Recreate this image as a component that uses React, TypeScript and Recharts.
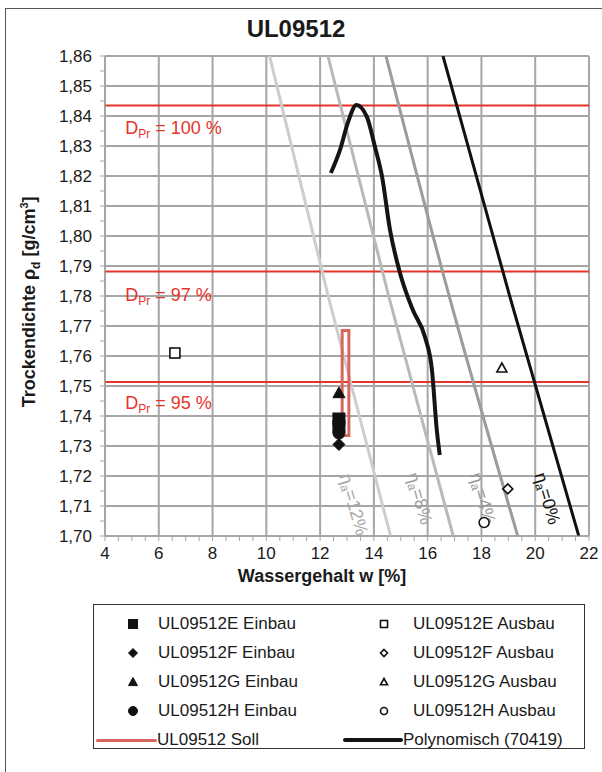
import React from "react";
import {
  ComposedChart,
  Line,
  Scatter,
  XAxis,
  YAxis,
  ReferenceLine,
  ReferenceDot,
} from "recharts";

// axis ticks
const wMajor = [4, 6, 8, 10, 12, 14, 16, 18, 20, 22];
const rhoMajor = [
  1.7, 1.71, 1.72, 1.73, 1.74, 1.75, 1.76, 1.77, 1.78, 1.79, 1.8, 1.81, 1.82,
  1.83, 1.84, 1.85, 1.86,
];
const wMinor = Array.from({ length: 37 }, (_, i) => 4 + i * 0.5);
const rhoMinor = Array.from(
  { length: 33 },
  (_, i) => Math.round((1.7 + i * 0.005) * 1000) / 1000
);

// Proctor levels
const dPr = [
  { label: "100 %", rho: 1.8435, labelRho: 1.836 },
  { label: "97 %", rho: 1.7882, labelRho: 1.7805 },
  { label: "95 %", rho: 1.7513, labelRho: 1.7445 },
];

// air-void lines
const na12 = [
  { w: 10.12, rho: 1.86 },
  { w: 12.3, rho: 1.78 },
  { w: 14.62, rho: 1.7 },
];
const na8 = [
  { w: 12.29, rho: 1.86 },
  { w: 14.55, rho: 1.78 },
  { w: 16.95, rho: 1.7 },
];
const na4 = [
  { w: 14.45, rho: 1.86 },
  { w: 16.8, rho: 1.78 },
  { w: 19.35, rho: 1.7 },
];
const na0 = [
  { w: 16.57, rho: 1.86 },
  { w: 19.05, rho: 1.78 },
  { w: 21.62, rho: 1.7 },
];

const naLabels = [
  { text: "12%", w: 13.25, rho: 1.7105, color: "#a8a8a8" },
  { text: "8%", w: 15.7, rho: 1.7125, color: "#a0a0a0" },
  { text: "4%", w: 18.05, rho: 1.7125, color: "#999999" },
  { text: "0%", w: 20.45, rho: 1.7125, color: "#111111" },
];

// Proctor curve, Polynomisch (70419)
const poly = [
  { w: 12.4, rho: 1.821 },
  { w: 12.74, rho: 1.8287 },
  { w: 13.03, rho: 1.8377 },
  { w: 13.35, rho: 1.8437 },
  { w: 13.74, rho: 1.8397 },
  { w: 14.04, rho: 1.8297 },
  { w: 14.3, rho: 1.82 },
  { w: 14.6, rho: 1.802 },
  { w: 14.97, rho: 1.7877 },
  { w: 15.45, rho: 1.7753 },
  { w: 15.9, rho: 1.7663 },
  { w: 16.16, rho: 1.7553 },
  { w: 16.34, rho: 1.7353 },
  { w: 16.45, rho: 1.727 },
];

// Soll box
const soll = [
  { w: 12.82, rho: 1.7335 },
  { w: 12.82, rho: 1.7685 },
  { w: 13.07, rho: 1.7685 },
  { w: 13.07, rho: 1.7335 },
  { w: 12.82, rho: 1.7335 },
];

const einbauE = [
  { w: 12.7, rho: 1.739 },
  { w: 12.7, rho: 1.7365 },
];
const einbauF = [{ w: 12.7, rho: 1.7305 }];
const einbauG = [{ w: 12.7, rho: 1.7477 }];
const einbauH = [{ w: 12.7, rho: 1.7343 }];
const ausbauE = [{ w: 6.6, rho: 1.761 }];
const ausbauF = [{ w: 18.98, rho: 1.7157 }];
const ausbauG = [{ w: 18.76, rho: 1.756 }];
const ausbauH = [{ w: 18.1, rho: 1.7045 }];

const FONT = '"Liberation Sans", Arial, sans-serif';
const RED = "#e5342a";
const GRID = "#a6a6a6";

type Kind = "square" | "diamond" | "triangle" | "circle";

function Marker({
  cx,
  cy,
  kind,
  filled,
  s = 6,
}: {
  cx: number;
  cy: number;
  kind: Kind;
  filled: boolean;
  s?: number;
}) {
  const fill = filled ? "#111" : "#fff";
  const stroke = "#111";
  const sw = filled ? 1 : 1.6;
  if (kind === "square")
    return (
      <rect
        x={cx - s + (filled ? 0 : 1)}
        y={cy - s + (filled ? 0 : 1)}
        width={2 * s - (filled ? 0 : 2)}
        height={2 * s - (filled ? 0 : 2)}
        fill={fill}
        stroke={stroke}
        strokeWidth={sw}
      />
    );
  if (kind === "diamond") {
    const d = s - (filled ? 0 : 1);
    return (
      <polygon
        points={`${cx},${cy - d} ${cx + d},${cy} ${cx},${cy + d} ${cx - d},${cy}`}
        fill={fill}
        stroke={stroke}
        strokeWidth={sw}
      />
    );
  }
  if (kind === "triangle") {
    const d = s - (filled ? 0 : 1);
    return (
      <polygon
        points={`${cx},${cy - d} ${cx + d},${cy + d * 0.8} ${cx - d},${cy + d * 0.8}`}
        fill={fill}
        stroke={stroke}
        strokeWidth={sw}
      />
    );
  }
  return (
    <circle
      cx={cx}
      cy={cy}
      r={s - (filled ? 0 : 1)}
      fill={fill}
      stroke={stroke}
      strokeWidth={sw}
    />
  );
}

const shapeOf = (kind: Kind, filled: boolean) => (p: any) =>
  <Marker cx={p.cx} cy={p.cy} kind={kind} filled={filled} />;

const fmtW = (v: number) => (wMajor.includes(v) ? String(v) : "");
const fmtRho = (v: number) =>
  rhoMajor.some((r) => Math.abs(r - v) < 1e-6)
    ? v.toFixed(2).replace(".", ",")
    : "";

function LegendSym({ kind, filled }: { kind: Kind; filled: boolean }) {
  return (
    <svg width={14} height={14} style={{ display: "block" }}>
      <Marker cx={7} cy={7} kind={kind} filled={filled} s={4.5} />
    </svg>
  );
}

const legendRows: {
  left: [Kind | "line", string];
  right: [Kind | "line", string];
}[] = [
  { left: ["square", "UL09512E Einbau"], right: ["square", "UL09512E Ausbau"] },
  { left: ["diamond", "UL09512F Einbau"], right: ["diamond", "UL09512F Ausbau"] },
  { left: ["triangle", "UL09512G Einbau"], right: ["triangle", "UL09512G Ausbau"] },
  { left: ["circle", "UL09512H Einbau"], right: ["circle", "UL09512H Ausbau"] },
  { left: ["line", "UL09512 Soll"], right: ["line", "Polynomisch (70419)"] },
];

export default function App() {
  return (
    <div
      style={{
        position: "fixed",
        left: 0,
        top: 0,
        width: 602,
        height: 772,
        overflow: "hidden",
        background: "#fff",
        fontFamily: FONT,
        color: "#1a1a1a",
      }}
    >
      <div
        style={{
          position: "absolute",
          left: 5,
          top: 8,
          width: 700,
          height: 900,
          border: "1.5px solid #555",
        }}
      />
      <div
        style={{
          position: "absolute",
          left: 0,
          top: 15,
          width: 592,
          textAlign: "center",
          fontWeight: "bold",
          fontSize: 24,
        }}
      >
        UL09512
      </div>
      <div style={{ position: "absolute", left: 0, top: 0 }}>
        <ComposedChart
          width={602}
          height={600}
          margin={{ top: 56, right: 13, left: 45, bottom: 34 }}
          style={{ fontFamily: FONT }}
        >
          <XAxis
            type="number"
            dataKey="w"
            domain={[4, 22]}
            ticks={wMinor}
            interval={0}
            tickFormatter={fmtW}
            allowDataOverflow
            height={30}
            tickSize={5}
            tickMargin={6}
            stroke={GRID}
            tick={{ fill: "#1a1a1a", fontSize: 17 }}
          />
          <YAxis
            type="number"
            dataKey="rho"
            domain={[1.7, 1.86]}
            ticks={rhoMinor}
            interval={0}
            tickFormatter={fmtRho}
            allowDataOverflow
            width={60}
            tickSize={5}
            tickMargin={8}
            stroke={GRID}
            tick={{ fill: "#1a1a1a", fontSize: 17 }}
          />
          {wMajor.map((w) => (
            <ReferenceLine key={"gx" + w} x={w} stroke={GRID} strokeWidth={2} />
          ))}
          {rhoMajor.map((r) => (
            <ReferenceLine key={"gy" + r} y={r} stroke={GRID} strokeWidth={2} />
          ))}
          {dPr.map((d) => (
            <ReferenceLine key={"d" + d.label} y={d.rho} stroke={RED} strokeWidth={2} />
          ))}
          {dPr.map((d) => (
            <ReferenceDot
              key={"dl" + d.label}
              x={4.75}
              y={d.labelRho}
              r={0}
              stroke="none"
              fill="none"
              label={(p: any) => (
                <text
                  x={p.viewBox.x}
                  y={p.viewBox.y + 6}
                  fill={RED}
                  fontSize={18}
                  fontFamily={FONT}
                >
                  <tspan>D</tspan>
                  <tspan fontSize={12} dy={4}>
                    Pr
                  </tspan>
                  <tspan dy={-4}>{" = " + d.label}</tspan>
                </text>
              )}
            />
          ))}
          <Line data={na12} dataKey="rho" type="monotone" stroke="#cdcdcd" strokeWidth={3} dot={false} isAnimationActive={false} />
          <Line data={na8} dataKey="rho" type="monotone" stroke="#b9b9b9" strokeWidth={3} dot={false} isAnimationActive={false} />
          <Line data={na4} dataKey="rho" type="monotone" stroke="#9c9c9c" strokeWidth={3} dot={false} isAnimationActive={false} />
          <Line data={na0} dataKey="rho" type="monotone" stroke="#111" strokeWidth={3} dot={false} isAnimationActive={false} />
          {naLabels.map((n) => (
            <ReferenceDot
              key={"na" + n.text}
              x={n.w}
              y={n.rho}
              r={0}
              stroke="none"
              fill="none"
              label={(p: any) => (
                <text
                  transform={`translate(${p.viewBox.x},${p.viewBox.y}) rotate(74)`}
                  textAnchor="middle"
                  dominantBaseline="central"
                  fill={n.color}
                  fontSize={18}
                  fontFamily={FONT}
                >
                  <tspan>η</tspan>
                  <tspan fontSize={12} dy={4}>
                    a
                  </tspan>
                  <tspan dy={-4}>{"=" + n.text}</tspan>
                </text>
              )}
            />
          ))}
          <Line data={poly} dataKey="rho" type="monotone" stroke="#141414" strokeWidth={4} dot={false} isAnimationActive={false} />
          <Line data={soll} dataKey="rho" type="linear" stroke="#d9665b" strokeWidth={3} dot={false} isAnimationActive={false} />
          <Scatter data={einbauE} shape={shapeOf("square", true)} isAnimationActive={false} />
          <Scatter data={einbauH} shape={shapeOf("circle", true)} isAnimationActive={false} />
          <Scatter data={einbauF} shape={shapeOf("diamond", true)} isAnimationActive={false} />
          <Scatter data={einbauG} shape={shapeOf("triangle", true)} isAnimationActive={false} />
          <Scatter data={ausbauE} shape={shapeOf("square", false)} isAnimationActive={false} />
          <Scatter data={ausbauF} shape={shapeOf("diamond", false)} isAnimationActive={false} />
          <Scatter data={ausbauG} shape={shapeOf("triangle", false)} isAnimationActive={false} />
          <Scatter data={ausbauH} shape={shapeOf("circle", false)} isAnimationActive={false} />
        </ComposedChart>
      </div>
      <div
        style={{
          position: "absolute",
          left: 172,
          top: 566,
          width: 300,
          textAlign: "center",
          fontWeight: "bold",
          fontSize: 18,
        }}
      >
        Wassergehalt w [%]
      </div>
      <div
        style={{
          position: "absolute",
          left: 30,
          top: 296,
          width: 300,
          marginLeft: -150,
          marginTop: -11,
          textAlign: "center",
          fontWeight: "bold",
          fontSize: 18,
          lineHeight: "22px",
          transform: "rotate(-90deg)",
          whiteSpace: "nowrap",
        }}
      >
        Trockendichte ρ<sub style={{ fontSize: 12 }}>d</sub> [g/cm
        <sup style={{ fontSize: 11 }}>3</sup>]
      </div>
      <div
        style={{
          position: "absolute",
          left: 93,
          top: 604,
          width: 492,
          height: 145,
          border: "1px solid #333",
          boxSizing: "border-box",
          fontSize: 17,
        }}
      >
        {legendRows.map((row, i) => (
          <div
            key={i}
            style={{ position: "absolute", top: 8 + i * 29, left: 0, height: 22, width: "100%" }}
          >
            {[row.left, row.right].map(([k, label], j) => (
              <div
                key={j}
                style={{
                  position: "absolute",
                  left: j === 0 ? 0 : 257,
                  top: 0,
                  height: 22,
                  display: "flex",
                  alignItems: "center",
                }}
              >
                {k === "line" ? (
                  <div
                    style={{
                      marginLeft: j === 0 ? 2 : -8,
                      width: j === 0 ? 61 : 60,
                      height: j === 0 ? 3 : 4,
                      background: j === 0 ? "#d9665b" : "#141414",
                      borderRadius: 2,
                    }}
                  />
                ) : (
                  <div style={{ marginLeft: j === 0 ? 32 : 26, width: 14, marginRight: j === 0 ? 18 : 22 }}>
                    <LegendSym kind={k as Kind} filled={j === 0} />
                  </div>
                )}
                <span style={{ whiteSpace: "nowrap" }}>{label}</span>
              </div>
            ))}
          </div>
        ))}
      </div>
    </div>
  );
}
